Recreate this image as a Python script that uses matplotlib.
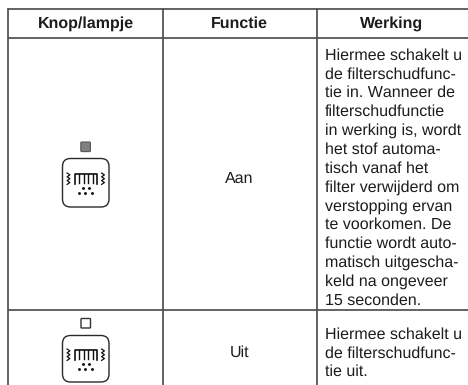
import matplotlib
matplotlib.use('Agg')
import matplotlib.pyplot as plt
from matplotlib.patches import FancyBboxPatch

plt.rcParams['font.family'] = ['Liberation Sans', 'DejaVu Sans']
plt.rcParams['text.hinting'] = 'no_hinting'
plt.rcParams['text.hinting_factor'] = 1

headers = ['Knop/lampje', 'Functie', 'Werking']
functions = ['Aan', 'Uit']
desc_on = ['Hiermee schakelt u', 'de filterschudfunc-', 'tie in. Wanneer de', 'filterschudfunctie',
           'in werking is, wordt', 'het stof automa-', 'tisch vanaf het', 'filter verwijderd om',
           'verstopping ervan', 'te voorkomen. De', 'functie wordt auto-', 'matisch uitgescha-',
           'keld na ongeveer', '15 seconden.']
desc_off = ['Hiermee schakelt u', 'de filterschudfunc-', 'tie uit.']

line_col = '#505050'
text_col = '#1c1c1c'
LINE_H = 18.85


def draw_icon(ax, top, h, comb_y):
    # rounded button with the filter shake symbol, top = y of the button
    ax.add_patch(FancyBboxPatch((62.5, top), 46.5, h, boxstyle='round,pad=0,rounding_size=8',
                                fc='white', ec='#2a2a2a', lw=1.0))
    # comb
    ax.plot([74.5, 74.5, 96.5, 96.5], [comb_y + 9.5, comb_y, comb_y, comb_y + 9.5],
            color='#111111', lw=1.2)
    for x in [79, 83.5, 88, 92.5]:
        ax.plot([x, x], [comb_y, comb_y + 8.5], color='#111111', lw=1.0)
    # shake marks on both sides
    for x0 in [68.5, 103]:
        xs = [x0 + (1.4 if i % 2 else -1.4) for i in range(7)]
        ys = [comb_y - 1 + i * 1.9 for i in range(7)]
        ax.plot(xs, ys, color='#111111', lw=0.9)
    # falling dust
    for x, dy in [(83, 13.5), (89, 13.5), (78.5, 18.5), (84.5, 18.5), (92, 18.5)]:
        ax.plot(x, comb_y + dy, 'o', ms=2.1, color='#111111', mew=0)


fig = plt.figure(figsize=(4.68, 3.85), dpi=100)
ax = fig.add_axes([0, 0, 1, 1])
ax.set_xlim(0, 468)
ax.set_ylim(385, 0)
ax.axis('off')

# grid of the table
for y in [9, 37.5, 309.5]:
    ax.plot([8, 468], [y, y], color=line_col, lw=1.25, solid_capstyle='butt')
for x in [8.3, 162.7, 316.7]:
    ax.plot([x, x], [8.2, 385], color=line_col, lw=1.25, solid_capstyle='butt')

for x, h in zip([85.5, 239.5, 392], headers):
    ax.text(x, 24, h, ha='center', va='center', fontsize=11.6, fontweight='bold', color=text_col)

ax.text(239.5, 178.5, functions[0], ha='center', va='center', fontsize=11.6, color=text_col)
ax.text(239.5, 353, functions[1], ha='center', va='center', fontsize=11.6, color=text_col)

for i, line in enumerate(desc_on):
    ax.text(325, 55.5 + i * LINE_H, line, ha='left', va='center', fontsize=11.6, color=text_col)
for i, line in enumerate(desc_off):
    ax.text(325, 334.5 + i * LINE_H, line, ha='left', va='center', fontsize=11.6, color=text_col)

# lamps
ax.add_patch(FancyBboxPatch((80.8, 142), 9.6, 9.6, boxstyle='round,pad=0,rounding_size=1',
                            fc='#808080', ec='#555555', lw=0.8))
ax.add_patch(FancyBboxPatch((81, 318.5), 9.5, 9.5, boxstyle='round,pad=0,rounding_size=0.8',
                            fc='white', ec='#333333', lw=1.0))

draw_icon(ax, 158.5, 48.5, 174)
draw_icon(ax, 335.5, 46.5, 350)

fig.savefig('out.png', dpi=100)
